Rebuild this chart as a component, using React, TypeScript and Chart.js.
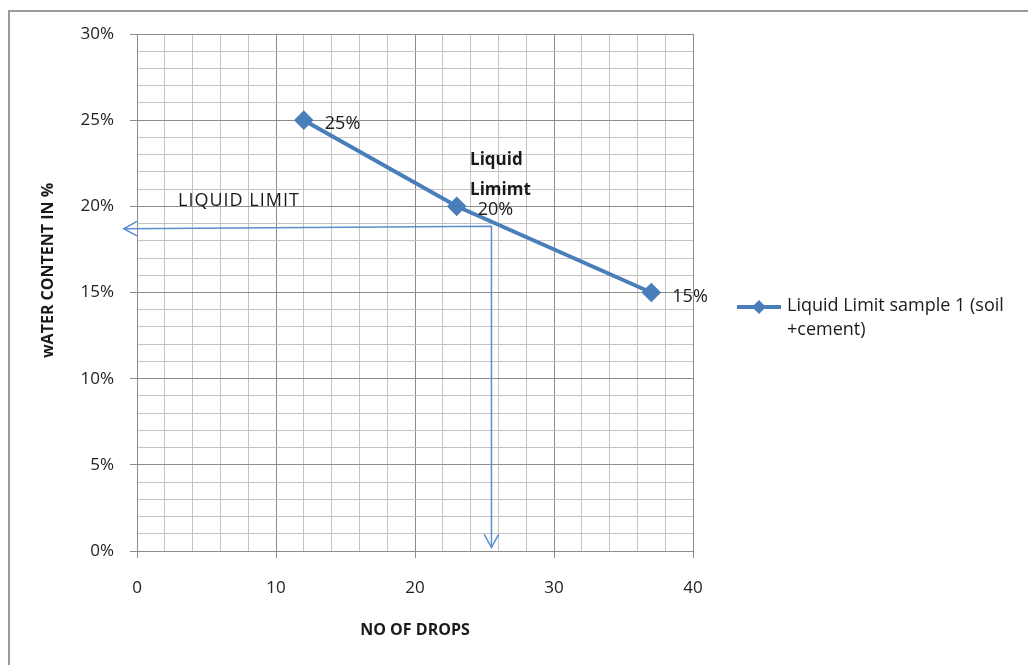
import React, { useEffect, useRef } from "react";
import { Chart, registerables } from "chart.js";

Chart.register(...registerables);

const drops = [12, 23, 37];
const waterContent = [25, 20, 15];
const pointLabels = ["25%", "20%", "15%"];
const seriesName = ["Liquid Limit sample 1 (soil", "+cement)"];
const xTitle = "NO OF DROPS";
const yTitle = "wATER CONTENT IN %";
// guide arrows (x in drops, y in %)
const arrowDrops = [-0.95, 25.5, 25.5];
const arrowWater = [18.7, 18.85, 0.2];

const FONT = "'Open Sans', Lato, sans-serif";
const SERIES_COLOR = "#4a7ebb";
const ARROW_COLOR = "#5b8fd0";

function arrowHead(ctx: CanvasRenderingContext2D, tx: number, ty: number, fx: number, fy: number) {
  const ang = Math.atan2(ty - fy, tx - fx);
  const len = 15;
  const spread = 0.5;
  ctx.beginPath();
  ctx.moveTo(tx - len * Math.cos(ang - spread), ty - len * Math.sin(ang - spread));
  ctx.lineTo(tx, ty);
  ctx.lineTo(tx - len * Math.cos(ang + spread), ty - len * Math.sin(ang + spread));
  ctx.stroke();
}

const decorPlugin = {
  id: "decor",
  beforeDraw(chart: any) {
    const ctx = chart.ctx as CanvasRenderingContext2D;
    ctx.save();
    ctx.fillStyle = "#ffffff";
    ctx.fillRect(0, 0, chart.width, chart.height);
    ctx.strokeStyle = "#9a9a9a";
    ctx.lineWidth = 2;
    ctx.beginPath();
    ctx.moveTo(9, chart.height);
    ctx.lineTo(9, 11);
    ctx.lineTo(chart.width, 11);
    ctx.stroke();
    ctx.restore();
  },
  beforeDatasetsDraw(chart: any) {
    const ctx = chart.ctx as CanvasRenderingContext2D;
    const xs = chart.scales.x;
    const ys = chart.scales.y;
    const px = arrowDrops.map((v) => xs.getPixelForValue(v));
    const py = arrowWater.map((v) => ys.getPixelForValue(v));
    ctx.save();
    ctx.strokeStyle = ARROW_COLOR;
    ctx.lineWidth = 1.5;
    ctx.beginPath();
    ctx.moveTo(px[0], py[0]);
    for (let i = 1; i < px.length; i++) ctx.lineTo(px[i], py[i]);
    ctx.stroke();
    arrowHead(ctx, px[0], py[0], px[1], py[1]);
    arrowHead(ctx, px[2], py[2], px[1], py[1]);
    ctx.restore();
  },
  afterDatasetsDraw(chart: any) {
    const ctx = chart.ctx as CanvasRenderingContext2D;
    const xs = chart.scales.x;
    const ys = chart.scales.y;
    const area = chart.chartArea;
    ctx.save();
    ctx.fillStyle = "#1a1a1a";
    // point labels
    ctx.font = `18px ${FONT}`;
    ctx.textAlign = "left";
    ctx.textBaseline = "middle";
    const meta = chart.getDatasetMeta(0);
    meta.data.forEach((el: any, i: number) => {
      ctx.fillText(pointLabels[i], el.x + 21, el.y + 4);
    });
    // annotations
    ctx.font = `18px ${FONT}`;
    (ctx as any).letterSpacing = "1px";
    ctx.fillText("LIQUID LIMIT", xs.getPixelForValue(2.95), ys.getPixelForValue(20.3));
    (ctx as any).letterSpacing = "0px";
    ctx.font = `bold 17px ${FONT}`;
    ctx.fillText("Liquid", xs.getPixelForValue(23.96), ys.getPixelForValue(22.7));
    ctx.fillText("Limimt", xs.getPixelForValue(23.96), ys.getPixelForValue(20.95));
    // axis titles
    ctx.font = `bold 16px ${FONT}`;
    ctx.textAlign = "center";
    ctx.fillText(xTitle, (area.left + area.right) / 2, 630);
    ctx.save();
    ctx.translate(48, (area.top + area.bottom) / 2 - 22);
    ctx.rotate(-Math.PI / 2);
    ctx.fillText(yTitle, 0, 0);
    ctx.restore();
    // legend
    const ly = 307;
    ctx.strokeStyle = SERIES_COLOR;
    ctx.lineWidth = 4;
    ctx.beginPath();
    ctx.moveTo(737, ly);
    ctx.lineTo(781, ly);
    ctx.stroke();
    ctx.fillStyle = SERIES_COLOR;
    ctx.beginPath();
    ctx.moveTo(759, ly - 7);
    ctx.lineTo(766, ly);
    ctx.lineTo(759, ly + 7);
    ctx.lineTo(752, ly);
    ctx.closePath();
    ctx.fill();
    ctx.fillStyle = "#1a1a1a";
    ctx.font = `18px ${FONT}`;
    ctx.textAlign = "left";
    ctx.fillText(seriesName[0], 787, 306);
    ctx.fillText(seriesName[1], 787, 330);
    ctx.restore();
  },
};

export default function App() {
  const ref = useRef<HTMLCanvasElement | null>(null);
  useEffect(() => {
    if (!ref.current) return;
    const chart = new Chart(ref.current, {
      type: "line",
      data: {
        datasets: [
          {
            label: seriesName.join(" "),
            data: drops.map((d, i) => ({ x: d, y: waterContent[i] })),
            borderColor: SERIES_COLOR,
            backgroundColor: SERIES_COLOR,
            borderWidth: 4,
            pointStyle: "rectRot",
            pointRadius: 7,
            pointHoverRadius: 7,
            tension: 0,
          },
        ],
      },
      plugins: [decorPlugin],
      options: {
        animation: false,
        responsive: false,
        events: [],
        layout: { padding: { top: 34, right: 335, left: 0, bottom: 0 } },
        plugins: { legend: { display: false }, tooltip: { enabled: false } },
        scales: {
          x: {
            type: "linear",
            min: 0,
            max: 40,
            afterFit: (s: any) => {
              s.height = 114;
            },
            ticks: {
              stepSize: 2,
              autoSkip: false,
              maxRotation: 0,
              padding: 20,
              color: "#222",
              font: { family: FONT, size: 17 },
              callback: (v: any) => (Number(v) % 10 === 0 ? String(v) : ""),
            },
            grid: {
              color: (c: any) => (c.tick && c.tick.value % 10 === 0 ? "#8c8c8c" : "#c4c4c4"),
              tickColor: (c: any) => (c.tick && c.tick.value % 10 === 0 ? "#8c8c8c" : "rgba(0,0,0,0)"),
              tickLength: 7,
              lineWidth: 1,
            },
            border: { display: true, color: "#8c8c8c" },
          },
          y: {
            type: "linear",
            min: 0,
            max: 30,
            afterFit: (s: any) => {
              s.width = 137;
            },
            ticks: {
              stepSize: 1,
              autoSkip: false,
              padding: 16,
              color: "#222",
              font: { family: FONT, size: 17 },
              callback: (v: any) => (Number(v) % 5 === 0 ? `${v}%` : ""),
            },
            grid: {
              color: (c: any) => (c.tick && c.tick.value % 5 === 0 ? "#8c8c8c" : "#c4c4c4"),
              tickColor: (c: any) => (c.tick && c.tick.value % 5 === 0 ? "#8c8c8c" : "rgba(0,0,0,0)"),
              tickLength: 7,
              lineWidth: 1,
            },
            border: { display: true, color: "#8c8c8c" },
          },
        },
      },
    });
    return () => chart.destroy();
  }, []);
  return (
    <div style={{ position: "fixed", left: 0, top: 0, width: 1028, height: 665, background: "#fff" }}>
      <canvas ref={ref} width={1028} height={665} style={{ display: "block" }} />
    </div>
  );
}
